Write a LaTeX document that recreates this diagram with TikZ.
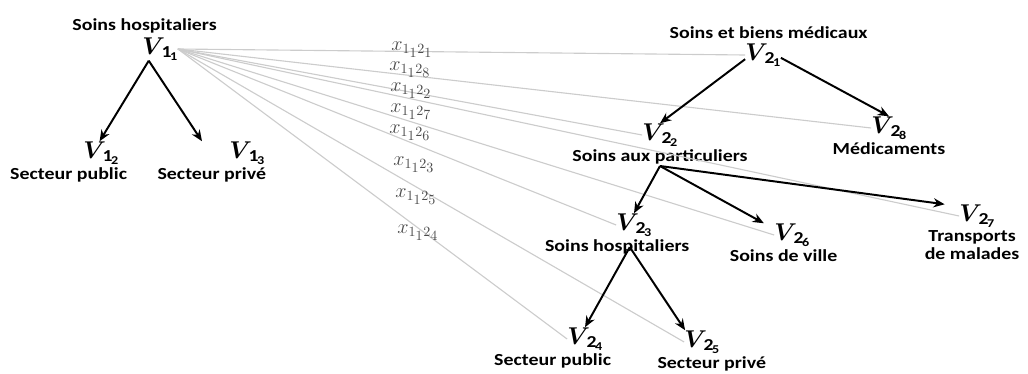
\documentclass[tikz,border=0pt]{standalone}
\usepackage{amsmath}
\usepackage{bm}
\usepackage{fontspec}
\setmainfont{Carlito}[FakeStretch=1.18]
\usetikzlibrary{arrows.meta,positioning}
\tikzset{
  var/.style={inner sep=0pt, font=\fontsize{17}{19}\selectfont},
  lab/.style={inner sep=1pt, align=center, font=\bfseries\fontsize{12}{12.5}\selectfont},
  weight/.style={inner sep=0pt, text=black!70, font=\fontsize{14}{15}\selectfont},
  link/.style={draw=black!20, line width=0.8pt},
  arr/.style={-{Stealth[length=2.8mm,width=2.3mm]}, line width=1.4pt}
}
\newcommand{\vnode}[2]{$\bm{V}_{\,\mathbf{#1}_{\mathbf{#2}}}$}
\newcommand{\xw}[1]{$x_{1_{\scriptstyle 1}2_{\scriptstyle #1}}$}

\begin{document}
\begin{tikzpicture}[x=0.025cm, y=-0.025cm, node distance=1pt]
  \useasboundingbox (0,0) rectangle (1028,374);

  % first tree
  \node[var] (v11) at (160,49) {\vnode{1}{1}};
  \node[lab, above=2pt of v11, xshift=-11pt] (l11) {Soins hospitaliers};
  \node[var] (v12) at (101,153) {\vnode{1}{2}};
  \node[lab, below=of v12, xshift=-23pt] (l12) {Secteur public};
  \node[var] (v13) at (247,153) {\vnode{1}{3}};
  \node[lab, below=of v13, xshift=-25pt] (l13) {Secteur privé};

  % second tree
  \node[var] (v21) at (763,55) {\vnode{2}{1}};
  \node[lab, above=2pt of v21, xshift=4pt] (l21) {Soins et biens médicaux};
  \node[var] (v22) at (660,135) {\vnode{2}{2}};
  \node[lab, below=of v22] (l22) {Soins aux particuliers};
  \node[var] (v28) at (889,128) {\vnode{2}{8}};
  \node[lab, below=of v28] (l28) {Médicaments};
  \node[var] (v23) at (634,225) {\vnode{2}{3}};
  \node[lab, below=of v23, xshift=-12pt] (l23) {Soins hospitaliers};
  \node[var] (v26) at (792,235) {\vnode{2}{6}};
  \node[lab, below=of v26, xshift=-6pt] (l26) {Soins de ville};
  \node[var] (v27) at (977,216) {\vnode{2}{7}};
  \node[lab, below=of v27, xshift=-3.5pt] (l27) {Transports\\de malades};
  \node[var] (v24) at (585,339) {\vnode{2}{4}};
  \node[lab, below=of v24, xshift=-23pt] (l24) {Secteur public};
  \node[var] (v25) at (702,342) {\vnode{2}{5}};
  \node[lab, below=of v25, xshift=7pt] (l25) {Secteur privé};

  % links between the two trees
  \foreach \t in {21,28,22,27,26,23,25,24}
    \draw[link] (v11.east) -- (v\t.west);

  \node[weight] (x21) at (412,50) {\xw{1}};
  \node[weight] (x28) at (410,70) {\xw{8}};
  \node[weight] (x22) at (411,91) {\xw{2}};
  \node[weight] (x27) at (411,112) {\xw{7}};
  \node[weight] (x26) at (410,133) {\xw{6}};
  \node[weight] (x23) at (414,165) {\xw{3}};
  \node[weight] (x25) at (416,197) {\xw{5}};
  \node[weight] (x24) at (418,233) {\xw{4}};

  % arrows
  \draw[arr] ([xshift=-8pt]v11.south) -- ([xshift=-1pt]v12.north);
  \draw[arr] ([xshift=-8pt]v11.south) -- ([xshift=-32pt]v13.north);
  \draw[arr] ([yshift=-3pt]v21.west) -- (v22.north);
  \draw[arr] ([yshift=-2pt]v21.east) -- (v28.north);
  \draw[arr] (l22.south) -- (v23.north);
  \draw[arr] (l22.south) -- ([xshift=-20pt]v26.north);
  \draw[arr] (l22.south) -- ([xshift=-23pt]v27.north);
  \draw[arr] ([xshift=9pt]l23.center) -- (v24.north);
  \draw[arr] ([xshift=9pt]l23.center) -- ([xshift=-12pt]v25.north);
\end{tikzpicture}
\end{document}
